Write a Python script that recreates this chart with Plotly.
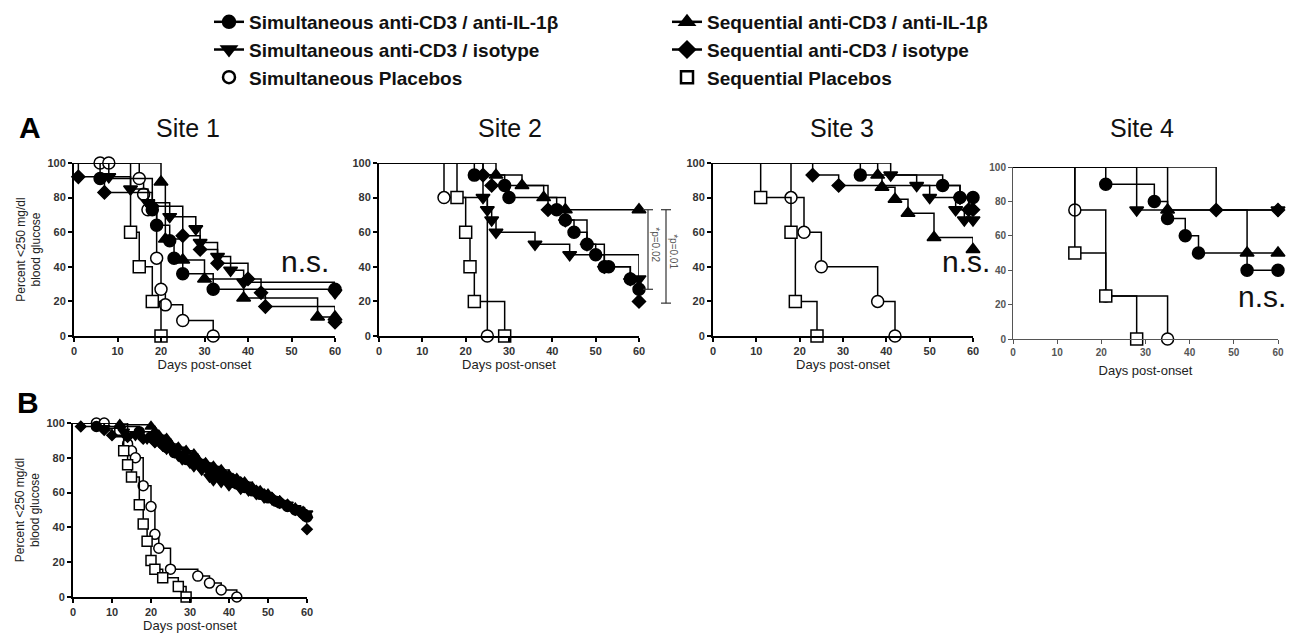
import plotly.graph_objects as go

# The page body has an 8px margin, so the figure is 8px smaller and all
# target pixel positions below are screen pixels shifted by OFF.
SCREEN_W, SCREEN_H = 1298, 637
OFF = 8
W, H = SCREEN_W - OFF, SCREEN_H - OFF

# ---------------- Data (days, percent) ----------------
# Site 1
S1_SIM_IL1B_X = [6, 18, 19, 22, 23, 25, 32, 60]
S1_SIM_IL1B_Y = [91, 73, 64, 55, 45, 36, 27, 27]
S1_SIM_ISO_X = [8, 13, 17, 22, 28, 29, 33, 36, 39, 60]
S1_SIM_ISO_Y = [92, 85, 77, 69, 62, 54, 46, 38, 31, 25]
S1_SIM_PLA_X = [6, 8, 15, 16, 17, 19, 20, 21, 25, 32]
S1_SIM_PLA_Y = [100, 100, 91, 82, 73, 45, 27, 18, 9, 0]
S1_SEQ_IL1B_X = [20, 21, 25, 30, 39, 56, 60]
S1_SEQ_IL1B_Y = [89, 56, 44, 33, 22, 11, 11]
S1_SEQ_ISO_X = [1, 7, 18, 25, 29, 33, 40, 43, 44, 60]
S1_SEQ_ISO_Y = [92, 83, 75, 58, 50, 42, 33, 25, 17, 8]
S1_SEQ_PLA_X = [13, 15, 18, 20]
S1_SEQ_PLA_Y = [60, 40, 20, 0]

# Site 2
S2_SIM_IL1B_X = [22, 29, 30, 41, 43, 45, 48, 50, 52, 53, 58, 60]
S2_SIM_IL1B_Y = [93, 87, 80, 73, 67, 60, 53, 47, 40, 40, 33, 27]
S2_SIM_ISO_X = [24, 25, 26, 27, 36, 44, 60]
S2_SIM_ISO_Y = [80, 73, 67, 60, 53, 47, 33]
S2_SIM_PLA_X = [15, 25]
S2_SIM_PLA_Y = [80, 0]
S2_SEQ_IL1B_X = [27, 33, 38, 43, 60]
S2_SEQ_IL1B_Y = [93, 87, 80, 73, 73]
S2_SEQ_ISO_X = [24, 26, 39, 43, 48, 52, 58, 60]
S2_SEQ_ISO_Y = [93, 87, 73, 67, 53, 40, 33, 20]
S2_SEQ_PLA_X = [18, 20, 21, 22, 29]
S2_SEQ_PLA_Y = [80, 60, 40, 20, 0]

# Site 3
S3_SIM_IL1B_X = [34, 53, 57, 60]
S3_SIM_IL1B_Y = [93, 87, 80, 80]
S3_SIM_ISO_X = [41, 47, 50, 56, 58, 60]
S3_SIM_ISO_Y = [93, 87, 80, 73, 67, 67]
S3_SIM_PLA_X = [18, 21, 25, 38, 42]
S3_SIM_PLA_Y = [80, 60, 40, 20, 0]
S3_SEQ_IL1B_X = [38, 39, 42, 45, 51, 60]
S3_SEQ_IL1B_Y = [93, 86, 79, 71, 57, 50]
S3_SEQ_ISO_X = [23, 29, 57, 59, 60]
S3_SEQ_ISO_Y = [93, 87, 80, 73, 73]
S3_SEQ_PLA_X = [11, 18, 19, 24]
S3_SEQ_PLA_Y = [80, 60, 20, 0]

# Site 4
S4_SIM_IL1B_X = [21, 32, 35, 39, 42, 53, 60]
S4_SIM_IL1B_Y = [90, 80, 70, 60, 50, 40, 40]
S4_SIM_ISO_X = [28, 60]
S4_SIM_ISO_Y = [75, 75]
S4_SIM_PLA_X = [14, 21, 35]
S4_SIM_PLA_Y = [75, 25, 0]
S4_SEQ_IL1B_X = [35, 53, 60]
S4_SEQ_IL1B_Y = [75, 50, 50]
S4_SEQ_ISO_X = [46, 60]
S4_SEQ_ISO_Y = [75, 75]
S4_SEQ_PLA_X = [14, 21, 28]
S4_SEQ_PLA_Y = [50, 25, 0]

# Panel B (pooled)
B_SIM_IL1B_X = [6, 17, 20, 22, 23, 24, 26, 28, 29, 31, 33, 35, 37, 39, 41, 42, 44, 46, 48, 50, 52, 53, 55, 57, 59, 60]
B_SIM_IL1B_Y = [98, 95, 92, 90, 88, 86, 83, 81, 79, 77, 75, 73, 70, 68, 66, 65, 63, 61, 59, 57, 55, 54, 52, 50, 48, 46]
B_SIM_ISO_X = [8, 13, 16, 19, 21, 23, 24, 26, 27, 28, 30, 31, 33, 35, 36, 38, 40, 43, 45, 47, 49, 51, 53, 55, 57, 58, 60]
B_SIM_ISO_Y = [97, 95, 93, 91, 89, 87, 85, 83, 81, 79, 77, 75, 73, 69, 67, 66, 64, 62, 61, 59, 57, 56, 54, 53, 51, 50, 48]
B_SIM_PLA_X = [6, 8, 14, 15, 16, 18, 20, 21, 22, 25, 32, 35, 38, 42]
B_SIM_PLA_Y = [100, 100, 88, 84, 80, 64, 52, 36, 28, 16, 12, 8, 4, 0]
B_SEQ_IL1B_X = [12, 20, 21, 22, 24, 25, 27, 29, 31, 32, 34, 36, 38, 40, 42, 44, 46, 48, 50, 51, 53, 55, 57, 59, 60]
B_SEQ_IL1B_Y = [99, 98, 95, 93, 91, 88, 86, 84, 82, 79, 77, 75, 73, 70, 68, 66, 63, 61, 59, 57, 55, 53, 51, 49, 47]
B_SEQ_ISO_X = [2, 8, 10, 14, 18, 21, 23, 25, 27, 29, 31, 33, 35, 37, 39, 41, 43, 45, 47, 49, 51, 53, 55, 57, 59, 60]
B_SEQ_ISO_Y = [98, 96, 93, 92, 91, 89, 87, 85, 82, 80, 78, 76, 74, 72, 70, 68, 66, 63, 61, 59, 57, 55, 53, 50, 47, 39]
B_SEQ_PLA_X = [12, 13, 14, 15, 17, 18, 19, 20, 21, 23, 27, 29]
B_SEQ_PLA_Y = [95, 84, 76, 69, 53, 42, 32, 21, 16, 11, 6, 0]

LEGEND_NAMES = ["Simultaneous anti-CD3 / anti-IL-1β", "Sequential anti-CD3 / anti-IL-1β",
                "Simultaneous anti-CD3 / isotype", "Sequential anti-CD3 / isotype",
                "Simultaneous Placebos", "Sequential Placebos"]
SITE_TITLES = ["Site 1", "Site 2", "Site 3", "Site 4"]
X_TICKS = [0, 10, 20, 30, 40, 50, 60]
Y_TICKS = [0, 20, 40, 60, 80, 100]

# ---------------- Styles ----------------
STYLE = {
    "sim_il1b": dict(symbol="circle", fill="black"),
    "seq_il1b": dict(symbol="triangle-up", fill="black"),
    "sim_iso": dict(symbol="triangle-down", fill="black"),
    "seq_iso": dict(symbol="diamond", fill="black"),
    "sim_pla": dict(symbol="circle", fill="white"),
    "seq_pla": dict(symbol="square", fill="white"),
}
ORDER = ["sim_pla", "seq_pla", "seq_iso", "sim_iso", "seq_il1b", "sim_il1b"]

panels = {
    1: dict(sim_il1b=(S1_SIM_IL1B_X, S1_SIM_IL1B_Y), sim_iso=(S1_SIM_ISO_X, S1_SIM_ISO_Y),
            sim_pla=(S1_SIM_PLA_X, S1_SIM_PLA_Y), seq_il1b=(S1_SEQ_IL1B_X, S1_SEQ_IL1B_Y),
            seq_iso=(S1_SEQ_ISO_X, S1_SEQ_ISO_Y), seq_pla=(S1_SEQ_PLA_X, S1_SEQ_PLA_Y)),
    2: dict(sim_il1b=(S2_SIM_IL1B_X, S2_SIM_IL1B_Y), sim_iso=(S2_SIM_ISO_X, S2_SIM_ISO_Y),
            sim_pla=(S2_SIM_PLA_X, S2_SIM_PLA_Y), seq_il1b=(S2_SEQ_IL1B_X, S2_SEQ_IL1B_Y),
            seq_iso=(S2_SEQ_ISO_X, S2_SEQ_ISO_Y), seq_pla=(S2_SEQ_PLA_X, S2_SEQ_PLA_Y)),
    3: dict(sim_il1b=(S3_SIM_IL1B_X, S3_SIM_IL1B_Y), sim_iso=(S3_SIM_ISO_X, S3_SIM_ISO_Y),
            sim_pla=(S3_SIM_PLA_X, S3_SIM_PLA_Y), seq_il1b=(S3_SEQ_IL1B_X, S3_SEQ_IL1B_Y),
            seq_iso=(S3_SEQ_ISO_X, S3_SEQ_ISO_Y), seq_pla=(S3_SEQ_PLA_X, S3_SEQ_PLA_Y)),
    4: dict(sim_il1b=(S4_SIM_IL1B_X, S4_SIM_IL1B_Y), sim_iso=(S4_SIM_ISO_X, S4_SIM_ISO_Y),
            sim_pla=(S4_SIM_PLA_X, S4_SIM_PLA_Y), seq_il1b=(S4_SEQ_IL1B_X, S4_SEQ_IL1B_Y),
            seq_iso=(S4_SEQ_ISO_X, S4_SEQ_ISO_Y), seq_pla=(S4_SEQ_PLA_X, S4_SEQ_PLA_Y)),
    5: dict(sim_il1b=(B_SIM_IL1B_X, B_SIM_IL1B_Y), sim_iso=(B_SIM_ISO_X, B_SIM_ISO_Y),
            sim_pla=(B_SIM_PLA_X, B_SIM_PLA_Y), seq_il1b=(B_SEQ_IL1B_X, B_SEQ_IL1B_Y),
            seq_iso=(B_SEQ_ISO_X, B_SEQ_ISO_Y), seq_pla=(B_SEQ_PLA_X, B_SEQ_PLA_Y)),
}

def px_x(p):
    return (p - OFF) / W

def px_y(p):
    return 1 - (p - OFF) / H

# screen-pixel boxes: (left, right, top, bottom)
BOXES = {
    1: (74, 335, 163, 336),
    2: (379, 639, 163, 336),
    3: (713, 973, 163, 336),
    4: (1013, 1278, 167, 339),
    5: (73, 307, 423, 597),
}

fig = go.Figure()

for i, box in BOXES.items():
    xa = "x" if i == 1 else f"x{i}"
    ya = "y" if i == 1 else f"y{i}"
    msize = 10 if i == 5 else 12
    for key in ORDER:
        xs, ys = panels[i][key]
        st = STYLE[key]
        ms = msize - (2 if st["symbol"] == "diamond" else 0)
        fig.add_trace(go.Scatter(
            x=[0] + list(xs), y=[100] + list(ys), mode="lines", line=dict(color="black", width=1.5, shape="hv"),
            xaxis=xa, yaxis=ya, showlegend=False, hoverinfo="skip"))
        fig.add_trace(go.Scatter(
            x=xs, y=ys, mode="markers", cliponaxis=False,
            marker=dict(symbol=st["symbol"], size=ms, color=st["fill"], line=dict(color="black", width=1.5)),
            xaxis=xa, yaxis=ya, showlegend=False))

# legend entries
LEG_KEYS = ["sim_il1b", "seq_il1b", "sim_iso", "seq_iso", "sim_pla", "seq_pla"]
for name, key in zip(LEGEND_NAMES, LEG_KEYS):
    st = STYLE[key]
    mode = "markers" if key.endswith("pla") else "lines+markers"
    fig.add_trace(go.Scatter(
        x=[None], y=[None], mode=mode, name=name,
        line=dict(color="black", width=2.5),
        marker=dict(symbol=st["symbol"], size=12, color=st["fill"], line=dict(color="black", width=2.5)),
        showlegend=True))

layout = dict(
    width=W, height=H, paper_bgcolor="white", plot_bgcolor="white",
    margin=dict(l=0, r=0, t=0, b=0, autoexpand=False),
    font=dict(family="Arial, Liberation Sans, sans-serif", color="black"),
    legend=dict(orientation="h", x=px_x(209), y=1.008, xanchor="left", yanchor="top",
                entrywidth=413, entrywidthmode="pixels", traceorder="normal",
                font=dict(size=19, weight="bold", color="#111"), bgcolor="rgba(0,0,0,0)",
                itemwidth=30),
)

for i, (l, r, t, b) in BOXES.items():
    xk = "xaxis" if i == 1 else f"xaxis{i}"
    yk = "yaxis" if i == 1 else f"yaxis{i}"
    ya = "y" if i == 1 else f"y{i}"
    xa = "x" if i == 1 else f"x{i}"
    thin = (i == 4)
    lw = 1 if thin else 2
    lc = "#555" if thin else "black"
    tf = dict(size=10 if thin else 11, weight="bold", color="#555" if thin else "#333")
    layout[xk] = dict(domain=[px_x(l), px_x(r)], range=[0, 60], anchor=ya, tickvals=X_TICKS,
                      showline=True, linewidth=lw, linecolor=lc, ticks="outside", ticklen=4,
                      tickwidth=lw, tickcolor=lc, showgrid=False, zeroline=False, tickfont=tf,
                      automargin=False,
                      title=dict(text="Days post-onset", font=dict(size=13, color="#222"),
                                 standoff=8 if thin else 3))
    layout[yk] = dict(domain=[px_y(b), px_y(t)], range=[0, 100], anchor=xa, tickvals=Y_TICKS,
                      showline=True, linewidth=lw, linecolor=lc, ticks="outside", ticklen=4,
                      tickwidth=lw, tickcolor=lc, showgrid=False, zeroline=False, tickfont=tf,
                      automargin=False)
    if i in (1, 5):
        layout[yk]["title"] = dict(text="Percent <250 mg/dl<br>blood glucose",
                                   font=dict(size=12, color="#222"), standoff=4)

fig.update_layout(**layout)

annotations = []
title_px = [188, 510, 842, 1142]
for t, cx in zip(SITE_TITLES, title_px):
    annotations.append(dict(text=t, x=px_x(cx), y=px_y(128), xref="paper", yref="paper",
                             xanchor="center", yanchor="middle",
                             showarrow=False, font=dict(size=25, color="#111")))
annotations.append(dict(text="<b>A</b>", x=px_x(30), y=px_y(128), xref="paper", yref="paper",
                        xanchor="center", yanchor="middle",
                        showarrow=False, font=dict(size=30, color="black")))
annotations.append(dict(text="<b>B</b>", x=px_x(28), y=px_y(402), xref="paper", yref="paper",
                        xanchor="center", yanchor="middle",
                        showarrow=False, font=dict(size=30, color="black")))
for cx, cy in [(305, 262), (966, 261), (1262, 296)]:
    annotations.append(dict(text="n.s.", x=px_x(cx), y=px_y(cy), xref="paper", yref="paper",
                            xanchor="center", yanchor="middle",
                            showarrow=False, font=dict(size=30, color="#111")))

# p-value brackets for Site 2
shapes = []
for bx, ytop, ybot, label, tx in [(648, 73, 27, "*p=0.02", 656), (666, 73, 19, "*p=0.01", 674)]:
    shapes.append(dict(type="line", xref="paper", yref="y2", x0=px_x(bx), x1=px_x(bx), y0=ybot, y1=ytop,
                       line=dict(color="#333", width=1.2)))
    for yy in (ytop, ybot):
        shapes.append(dict(type="line", xref="paper", yref="y2", x0=px_x(bx - 5), x1=px_x(bx + 5), y0=yy, y1=yy,
                           line=dict(color="#333", width=1.2)))
    annotations.append(dict(text=label, x=px_x(tx), y=(ytop + ybot) / 2 + 3, xref="paper", yref="y2",
                            showarrow=False, textangle=90, font=dict(size=10, color="#555")))

fig.update_layout(annotations=annotations, shapes=shapes)

fig.write_html("out.html")
